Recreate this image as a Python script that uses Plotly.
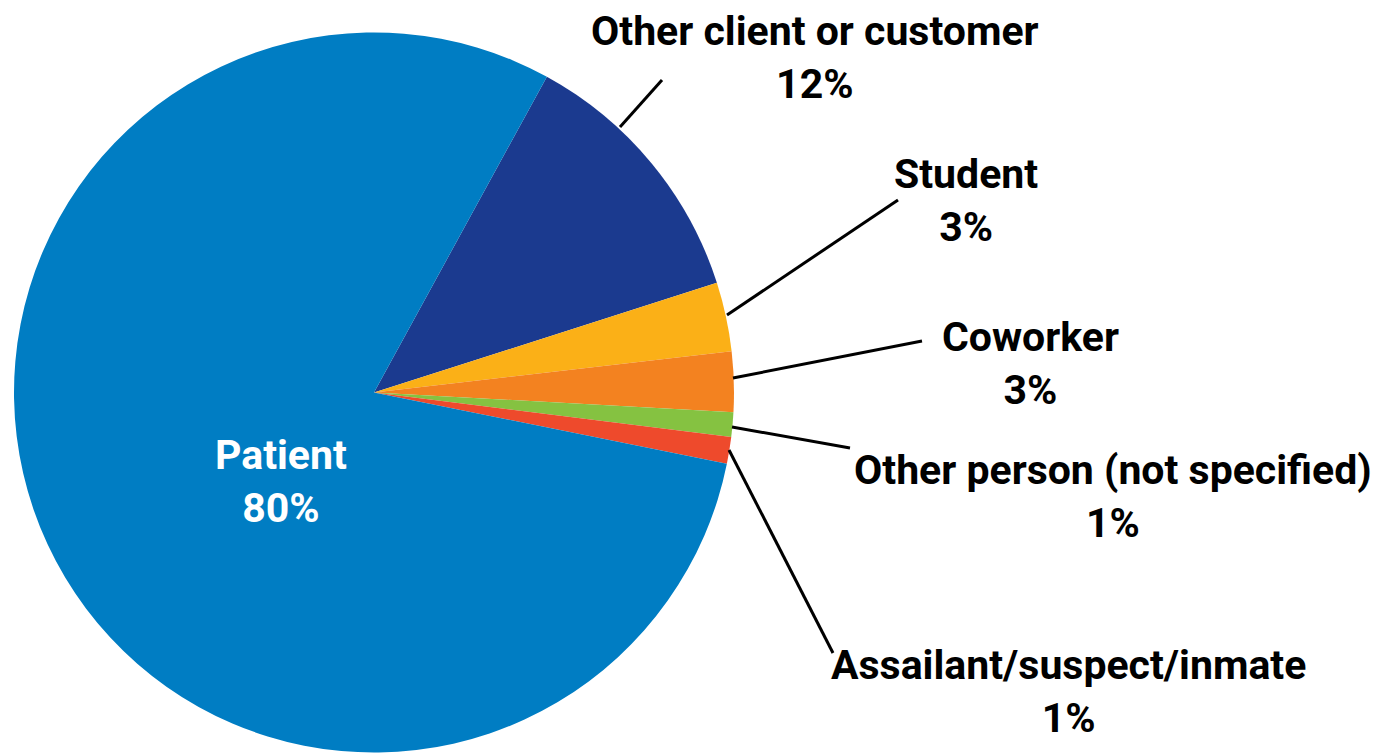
import plotly.graph_objects as go

# --- Datos ---
categories = ["Other client or customer", "Student", "Coworker",
              "Other person (not specified)", "Assailant/suspect/inmate", "Patient"]
values = [12.1, 3.1, 2.7, 1.1, 1.2, 79.8]
pct_labels = ["12%", "3%", "3%", "1%", "1%", "80%"]
colors = ["#1B3A8F", "#FBB017", "#F38220", "#85C241", "#EE4A2C", "#007DC3"]

W, H = 1387, 753
OFF = 8  # body margin of the html page
FONT = "Roboto, Liberation Sans Narrow, DejaVu Sans Condensed, sans-serif"

# pie geometry in pixels (center and radius)
cx, cy, r = 374, 392.5, 360

# label block centres (pixels) and leader lines (pixel start -> end)
label_pos = [(815, 57), (966, 200), (1030, 363), (1113, 496), (1068, 691), (281, 481)]
leaders = [((620, 127), (662, 80)),
           ((727, 315), (898, 200)),
           ((733, 378), (922, 341)),
           ((732, 427), (850, 448)),
           ((729, 450), (833, 653))]


def px(x):
    return (x - OFF) / (W - OFF)


def py(y):
    return 1 - (y - OFF) / (H - OFF)


fig = go.Figure()
fig.add_trace(go.Pie(
    labels=categories, values=values, sort=False, direction="clockwise",
    rotation=28.7, marker=dict(colors=colors, line=dict(width=0)),
    textinfo="none", hoverinfo="skip", showlegend=False,
    domain=dict(x=[px(cx - r), px(cx + r)], y=[max(py(cy + r), 0), py(cy - r)]),
))

for (x, y), name, pct in zip(label_pos, categories, pct_labels):
    color = "white" if name == "Patient" else "black"
    fig.add_annotation(x=px(x), y=py(y), xref="paper", yref="paper",
                       text=f"<b>{name}<br>{pct}</b>", showarrow=False,
                       xanchor="center", yanchor="middle", align="center",
                       font=dict(family=FONT, size=41, color=color))

for (x0, y0), (x1, y1) in leaders:
    fig.add_shape(type="line", xref="paper", yref="paper",
                  x0=px(x0), y0=py(y0), x1=px(x1), y1=py(y1),
                  line=dict(color="black", width=3))

fig.update_layout(width=W - OFF, height=H - OFF, margin=dict(l=0, r=0, t=0, b=0),
                  paper_bgcolor="white", plot_bgcolor="white")

fig.write_html("out.html")
